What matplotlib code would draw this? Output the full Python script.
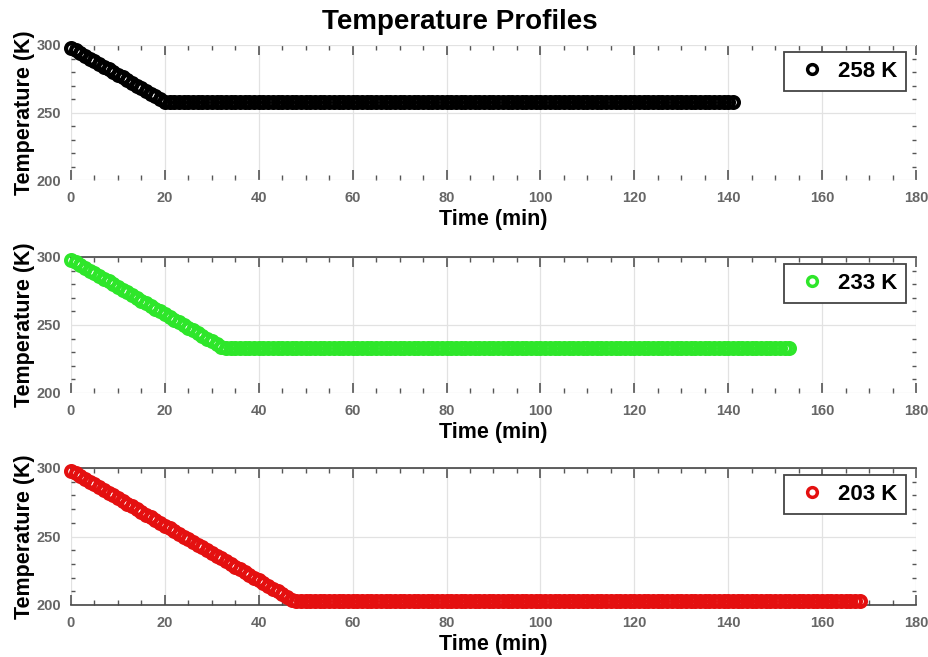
import matplotlib
matplotlib.use("Agg")
import matplotlib.pyplot as plt
from matplotlib.ticker import MultipleLocator
from matplotlib.lines import Line2D

plt.rcParams['font.family'] = ['Liberation Sans', 'DejaVu Sans']

# ---- data (1-minute samples) ----
time_258 = list(range(0, 142))
temp_258 = [298, 296, 294, 292, 290, 288, 286, 284, 282, 280, 278, 276, 274,
            272, 270, 268, 266, 264, 262, 260, 258] + [258] * 121

time_233 = list(range(0, 154))
temp_233 = [298, 296, 294, 292, 290, 288, 286, 284, 282, 280, 278, 276, 274,
            272, 270, 268, 266, 264, 262, 260, 258, 256, 254, 252, 250, 248,
            246, 244, 242, 240, 238, 236, 234] + [233] * 121

time_203 = list(range(0, 169))
temp_203 = [298, 296, 294, 292, 290, 288, 286, 284, 282, 280, 278, 276, 274,
            272, 270, 268, 266, 264, 262, 260, 258, 256, 254, 252, 250, 248,
            246, 244, 242, 240, 238, 236, 234, 232, 230, 228, 226, 224, 222,
            220, 218, 216, 214, 212, 210, 208, 206, 204] + [203] * 121

series_labels = ["258 K", "233 K", "203 K"]
series_colors = ["#000000", "#2ee62a", "#e41010"]
x_ticks = [0, 20, 40, 60, 80, 100, 120, 140, 160, 180]
y_ticks = [200, 250, 300]

series = [(time_258, temp_258), (time_233, temp_233), (time_203, temp_203)]

fig = plt.figure(figsize=(9.29, 6.57), dpi=100)
W, H = 929, 657
left_px, right_px = 71, 916
panels_px = [(45, 180), (257, 393), (468, 605)]

tick_grey = "#555555"
for i, ((t, T), lab, col) in enumerate(zip(series, series_labels, series_colors)):
    top_px, bot_px = panels_px[i]
    ax = fig.add_axes([left_px / W, 1 - bot_px / H,
                       (right_px - left_px) / W, (bot_px - top_px) / H])
    ax.plot(t, T, linestyle="none", marker="o", markersize=7.8,
            markerfacecolor="none", markeredgecolor=col, markeredgewidth=3.0,
            clip_on=False, zorder=3)
    ax.set_xlim(0, 180)
    ax.set_ylim(200, 300)
    ax.set_xticks(x_ticks)
    ax.set_yticks(y_ticks)
    ax.xaxis.set_minor_locator(MultipleLocator(5))
    ax.yaxis.set_minor_locator(MultipleLocator(10))
    ax.grid(True, which="major", color="#e2e2e2", linewidth=0.9, zorder=0)
    ax.tick_params(axis="x", which="both", direction="in", top=True, bottom=True,
                   colors=tick_grey, labelsize=10.5, pad=8)
    ax.tick_params(axis="x", which="major", length=7, width=1.2)
    ax.tick_params(axis="x", which="minor", length=3.5, width=1.0)
    ax.tick_params(axis="y", which="both", direction="in", left=True, right=True,
                   colors=tick_grey, labelsize=10.5, pad=7)
    ax.tick_params(axis="y", which="major", length=0)
    ax.tick_params(axis="y", which="minor", length=3, width=1.0)
    for lbl in ax.get_xticklabels() + ax.get_yticklabels():
        lbl.set_fontweight("bold")
        lbl.set_color("#666666")
    for s in ax.spines.values():
        s.set_visible(False)
    if i >= 1:
        ax.spines["top"].set_visible(True)
        ax.spines["top"].set_color("#444444")
        ax.spines["top"].set_linewidth(1.2)
    if i == 2:
        ax.spines["bottom"].set_visible(True)
        ax.spines["bottom"].set_color("#444444")
        ax.spines["bottom"].set_linewidth(1.2)
    ax.set_xlabel("Time (min)", fontsize=15.5, fontweight="bold", labelpad=3)
    ax.set_ylabel("Temperature (K)", fontsize=15.5, fontweight="bold", labelpad=1)
    handle = Line2D([], [], linestyle="none", marker="o", markersize=7,
                    markerfacecolor="none", markeredgecolor=col, markeredgewidth=2.5)
    leg = ax.legend([handle], [lab], loc="upper right",
                    bbox_to_anchor=((906 - left_px) / (right_px - left_px), 1 - 7 / (bot_px - top_px)),
                    fancybox=False, framealpha=1, edgecolor="#444444",
                    prop={"weight": "bold", "size": 16}, handletextpad=0.3,
                    borderpad=0.4, handlelength=1.7, borderaxespad=0)
    leg.get_frame().set_linewidth(1.3)

fig.text(0.495, 0.966, "Temperature Profiles", ha="center", va="center",
         fontsize=20, fontweight="bold")

fig.savefig("out.png", dpi=100)
